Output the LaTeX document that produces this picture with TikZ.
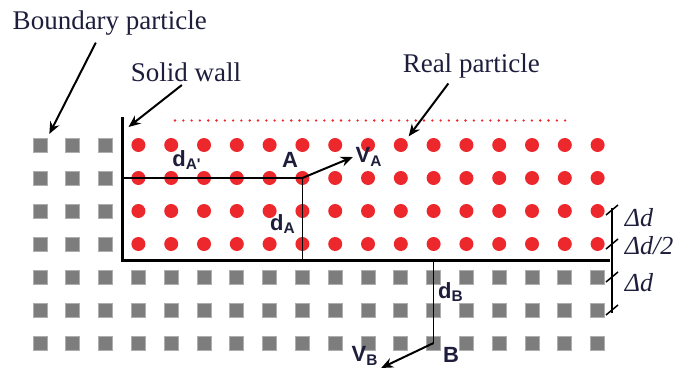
\documentclass[tikz,border=0pt]{standalone}
\usepackage{fontspec}
\setmainfont{Liberation Serif}
\newfontfamily\notefont{Liberation Serif}
\newfontfamily\lblfont{Liberation Sans}
\usetikzlibrary{arrows.meta}
\definecolor{dotred}{RGB}{237,40,45}
\definecolor{sqgray}{RGB}{125,125,125}
\definecolor{sqedge}{RGB}{175,175,175}
\definecolor{txtnavy}{RGB}{30,30,60}

\begin{document}
\begin{tikzpicture}[x=.5pt,y=-.5pt,line width=.75pt,
  bpart/.style={fill=sqgray,draw=sqedge,line width=.5pt,minimum size=7pt,inner sep=0pt},
  rpart/.style={circle,fill=dotred,minimum size=7pt,inner sep=0pt},
  note/.style={inner sep=1pt,font=\notefont\fontsize{13.5}{16}\selectfont,text=txtnavy},
  pt/.style={inner sep=1pt,font=\lblfont\bfseries\fontsize{11}{13}\selectfont,text=txtnavy},
  dim/.style={anchor=west,inner sep=0pt,font=\notefont\itshape\fontsize{13}{15}\selectfont,text=txtnavy},
  ptr/.style={-{Stealth[length=6pt,width=5pt]},line width=1pt}]
\path[use as bounding box] (0,0) rectangle (678,369);
\foreach \i in {0,...,2}
  \foreach \j in {0,...,3}
    \node[bpart] (b-\i-\j) at (40+32.8*\i,145+33*\j) {};
\foreach \i in {0,...,17}
  \foreach \j in {4,...,6}
    \node[bpart] (b-\i-\j) at (40+32.8*\i,145+33*\j) {};
\foreach \i in {3,...,17}
  \foreach \j in {0,...,3}
    \node[rpart] (r-\i-\j) at (40+32.8*\i,145+33*\j) {};
\draw[dotred,line width=1.3pt,line cap=round,dash pattern=on 0pt off 4.15pt] (175,120.5) -- (568,120.5);
\coordinate (wtop) at (122.5,117);
\coordinate (wcorner) at (122.5,260.5);
\coordinate (wend) at (610,260.5);
\draw[line width=1.9pt] (wtop) -- (wcorner) -- (wend);
\draw (wcorner |- r-8-1) -- (r-8-1.center) -- (r-8-1.center |- wcorner);
\draw (wcorner -| b-12-6) -- (b-12-6.center);
\node[note,anchor=base west] (bp) at (10,30) {Boundary particle};
\node[note,anchor=base west] (sw) at (128,82) {Solid wall};
\node[note,anchor=base west] (rp) at (400,73) {Real particle};
\draw[ptr,shorten >=2pt] ([shift={(-14,4)}]bp.south) -- (b-0-0.north east);
\draw[ptr] ([shift={(-4,0)}]sw.south) -- ([shift={(6,10)}]wtop);
\draw[ptr,shorten >=2pt] ([shift={(-23,2)}]rp.south) -- (r-11-0.north east);
\node[pt] (A) at (290,160) {A};
\node[pt] (va) at (369,157) {V\textsubscript{A}};
\node[pt] (dap) at (187,160) {d\textsubscript{A'}};
\node[pt] (da) at (283,224) {d\textsubscript{A}};
\node[pt] (B) at (451,355) {B};
\node[pt] (vb) at (365,356) {V\textsubscript{B}};
\node[pt] (db) at (451,292) {d\textsubscript{B}};
\draw[ptr] (r-8-1.center) -- (va.west);
\draw[ptr] (b-12-6.center) -- (vb.south east);
\draw (612,208) -- (612,313);
\foreach \y in {210,244,277,310}
  \draw (606,\y+5) -- (618,\y-5);
\node[dim] (d1) at (624,218) {Δd};
\node[dim] (d2) at (624,246) {Δd/2};
\node[dim] (d3) at (624,283) {Δd};
\end{tikzpicture}
\end{document}
